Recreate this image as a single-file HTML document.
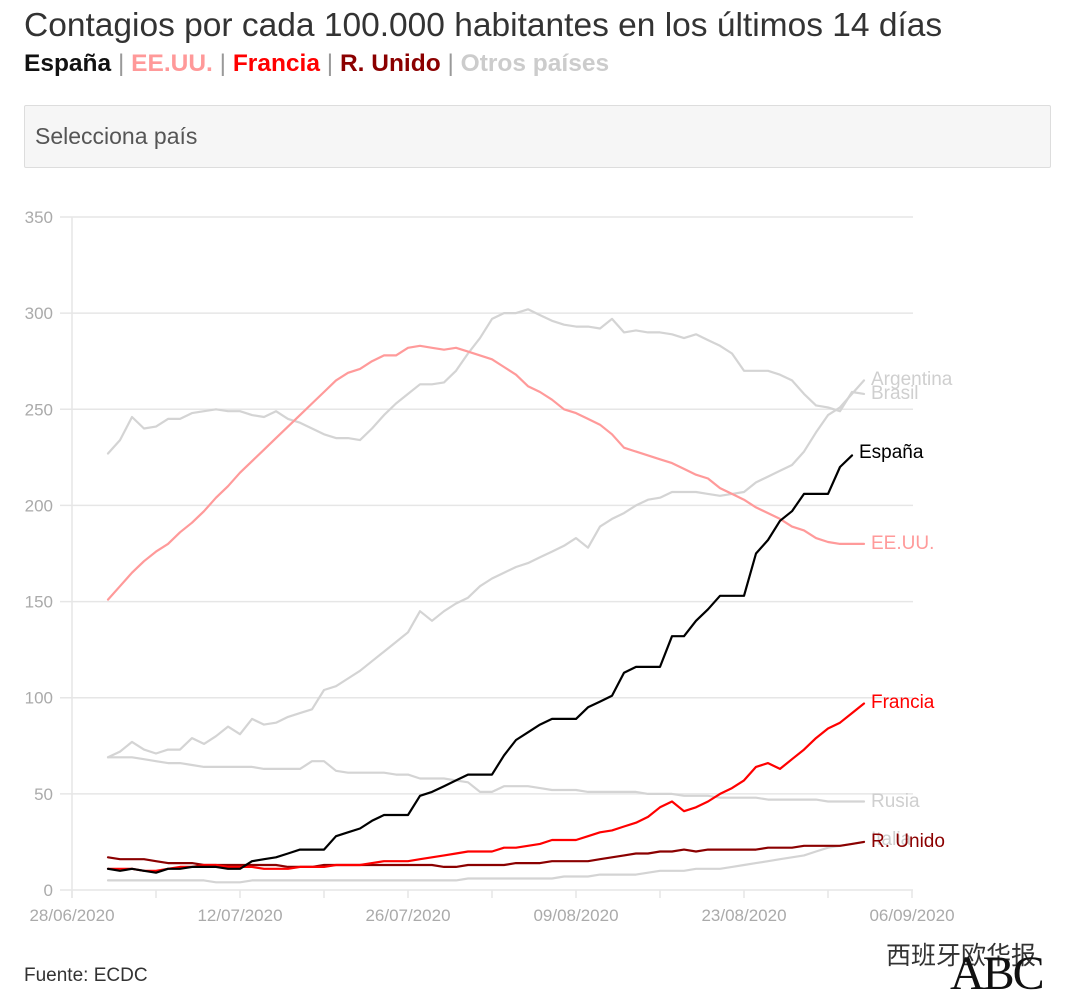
<!DOCTYPE html>
<html><head><meta charset="utf-8">
<style>
body{margin:0;width:1080px;height:998px;background:#fff;font-family:"Liberation Sans","Noto Sans CJK SC",sans-serif;overflow:hidden;position:relative}
#title{position:absolute;left:24px;top:7px;font-size:33.5px;color:#333;white-space:nowrap}
#sub{position:absolute;left:24px;top:50px;font-size:24.5px;font-weight:bold;color:#333;white-space:nowrap}
#sub span{cursor:pointer}
#select{position:absolute;left:24px;top:105px;width:1027px;height:63px;box-sizing:border-box;border:1px solid #ddd;background:#f6f6f6;border-radius:2px;font-size:23px;color:#555;padding:17px 10px}
#chart{position:absolute;left:0;top:0}
#src{position:absolute;left:24px;top:965px;font-size:19px;color:#333}
#wm{position:absolute;left:886px;top:936px;font-size:25px;color:#333}
#abc{position:absolute;left:950px;top:946px;font-family:"Liberation Serif",serif;font-size:48px;color:#111;letter-spacing:-2px}
</style></head><body>
<div id="title">Contagios por cada 100.000 habitantes en los últimos 14 días</div>
<div id="sub"><span style="color:#111">España</span><span style="color:#999;font-weight:normal"> | </span><span style="color:#f99">EE.UU.</span><span style="color:#999;font-weight:normal"> | </span><span style="color:#f00">Francia</span><span style="color:#999;font-weight:normal"> | </span><span style="color:#8b0000">R. Unido</span><span style="color:#999;font-weight:normal"> | </span><span style="color:#ccc">Otros países</span></div>
<div id="select">Selecciona país</div>
<svg id="chart" width="1080" height="998"></svg>
<div id="src">Fuente: ECDC</div>
<div id="wm">西班牙欧华报</div>
<div id="abc">ABC</div>
<script>
const yTicks=[0,50,100,150,200,250,300,350];
const xTickLabels=["28/06/2020","12/07/2020","26/07/2020","09/08/2020","23/08/2020","06/09/2020"];
const startDay=3;
const espana=[11,10,11,10,9,11,11,12,12,12,11,11,15,16,17,19,21,21,21,28,30,32,36,39,39,39,49,51,54,57,60,60,60,70,78,82,86,89,89,89,95,98,101,113,116,116,116,132,132,140,146,153,153,153,175,182,192,197,206,206,206,220,226];
const eeuu=[151,158,165,171,176,180,186,191,197,204,210,217,223,229,235,241,247,253,259,265,269,271,275,278,278,282,283,282,281,282,280,278,276,272,268,262,259,255,250,248,245,242,237,230,228,226,224,222,219,216,214,209,206,203,199,196,193,189,187,183,181,180,180,180];
const francia=[11,11,11,10,10,11,12,12,13,13,12,12,12,11,11,11,12,12,12,13,13,13,14,15,15,15,16,17,18,19,20,20,20,22,22,23,24,26,26,26,28,30,31,33,35,38,43,46,41,43,46,50,53,57,64,66,63,68,73,79,84,87,92,97];
const runido=[17,16,16,16,15,14,14,14,13,13,13,13,13,13,13,12,12,12,13,13,13,13,13,13,13,13,13,13,12,12,13,13,13,13,14,14,14,15,15,15,15,16,17,18,19,19,20,20,21,20,21,21,21,21,21,22,22,22,23,23,23,23,24,25];
const argentina=[69,72,77,73,71,73,73,79,76,80,85,81,89,86,87,90,92,94,104,106,110,114,119,124,129,134,145,140,145,149,152,158,162,165,168,170,173,176,179,183,178,189,193,196,200,203,204,207,207,207,206,205,206,207,212,215,218,221,228,238,247,251,258,265];
const brasil=[227,234,246,240,241,245,245,248,249,250,249,249,247,246,249,245,243,240,237,235,235,234,240,247,253,258,263,263,264,270,279,287,297,300,300,302,299,296,294,293,293,292,297,290,291,290,290,289,287,289,286,283,279,270,270,270,268,265,258,252,251,249,259,258];
const rusia=[69,69,69,68,67,66,66,65,64,64,64,64,64,63,63,63,63,67,67,62,61,61,61,61,60,60,58,58,58,57,56,51,51,54,54,54,53,52,52,52,51,51,51,51,51,50,50,50,49,49,49,48,48,48,48,47,47,47,47,47,46,46,46,46];
const italia=[5,5,5,5,5,5,5,5,5,4,4,4,5,5,5,5,5,5,5,5,5,5,5,5,5,5,5,5,5,5,6,6,6,6,6,6,6,6,7,7,7,8,8,8,8,9,10,10,10,11,11,11,12,13,14,15,16,17,18,20,22,23,24,25];

const NS="http://www.w3.org/2000/svg";
const svg=document.getElementById('chart');
const x=d=>72+12*d;
const y=v=>890-v*(673/350);
function mk(t,a){const e=document.createElementNS(NS,t);for(const k in a)e.setAttribute(k,a[k]);svg.appendChild(e);return e;}
yTicks.forEach(v=>{
  const g=mk('line',{x1:60,x2:913,y1:y(v),y2:y(v),stroke:'#e6e6e6','stroke-width':1.5});
  
  
  const t=mk('text',{x:53,y:y(v)+6,'text-anchor':'end','font-size':17,fill:'#aaa','font-family':'Liberation Sans'});
  t.textContent=v;
  
  
});
const ax=mk('line',{x1:72,x2:72,y1:217,y2:898,stroke:'#e6e6e6','stroke-width':1.5});


for(let d=0;d<=70;d+=7){
  const tk=mk('line',{x1:x(d),x2:x(d),y1:890,y2:898,stroke:'#e6e6e6','stroke-width':1.5});
  
  
}
xTickLabels.forEach((l,i)=>{
  const t=mk('text',{x:x(i*14),y:921,'text-anchor':'middle','font-size':17,fill:'#aaa','font-family':'Liberation Sans'});
  t.textContent=l;
  
  
});
const series=[
 {n:'italia',d:italia,c:'#d4d4d4',label:'Italia',ly:838},
 {n:'rusia',d:rusia,c:'#d4d4d4',label:'Rusia',ly:800},
 {n:'brasil',d:brasil,c:'#d4d4d4',label:'Brasil',ly:392},
 {n:'argentina',d:argentina,c:'#d4d4d4',label:'Argentina',ly:378},
 {n:'eeuu',d:eeuu,c:'#ff9a9a',label:'EE.UU.',ly:542},
 {n:'reino-unido',d:runido,c:'#8b0000',label:'R. Unido',ly:840},
 {n:'francia',d:francia,c:'#ff0000',label:'Francia',ly:701},
 {n:'espana',d:espana,c:'#000',label:'España',ly:451,lx:859}
];
series.forEach(s=>{
  const pts=s.d.map((v,i)=>x(startDay+i).toFixed(1)+','+y(v).toFixed(1)).join(' ');
  const p=mk('polyline',{points:pts,fill:'none',stroke:s.c,'stroke-width':2.2,'stroke-linejoin':'round','stroke-linecap':'round'});
  
  
  const t=mk('text',{x:s.lx||871,y:s.ly+7,'font-size':19,fill:s.c==='#d4d4d4'?'#cfcfcf':s.c,'font-family':'Liberation Sans'});
  t.textContent=s.label;
  
  
});
</script>
</body></html>
